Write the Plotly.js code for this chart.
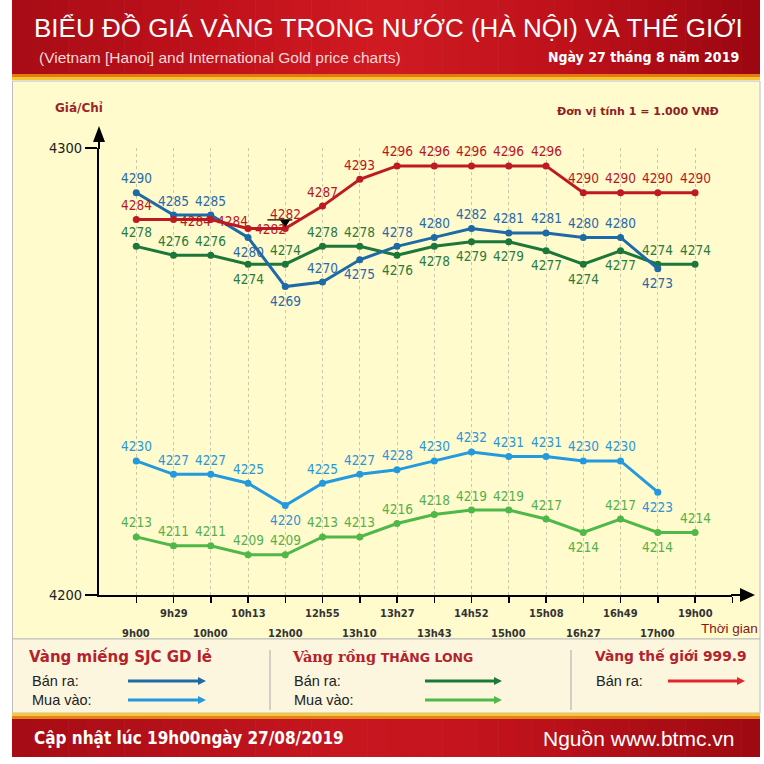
<!DOCTYPE html>
<html><head><meta charset="utf-8">
<script src="https://cdn.plot.ly/plotly-3.0.1.min.js"></script>
<style>html,body{margin:0;padding:0;background:#fff}#chart{width:764px;height:764px}</style>
</head><body><div id="chart"></div>
<script>
// ---- data ----
const times = ['9h00','9h29','10h00','10h13','12h00','12h55','13h10','13h27','13h43','14h52','15h00','15h08','16h27','16h49','17h00','19h00'];
const sjcSell = [4290,4285,4285,4280,4269,4270,4275,4278,4280,4282,4281,4281,4280,4280,4273,null];
const sjcBuy  = [4230,4227,4227,4225,4220,4225,4227,4228,4230,4232,4231,4231,4230,4230,4223,null];
const tlSell  = [4278,4276,4276,4274,4274,4278,4278,4276,4278,4279,4279,4277,4274,4277,4274,4274];
const tlBuy   = [4213,4211,4211,4209,4209,4213,4213,4216,4218,4219,4219,4217,4214,4217,4214,4214];
const world   = [4284,4284,4284,4282,4282,4287,4293,4296,4296,4296,4296,4296,4290,4290,4290,4290];
const yTicks = [4200, 4300];

// ---- label placement (style) ----
const placeSjcSell = ['a','a','a','b','b','a','b','a','a','a','a','a','a','a','b',''];
const placeSjcBuy  = ['a','a','a','a','b','a','a','a','a','a','a','a','a','a','b',''];
const placeTlSell  = ['a','a','a','b','a','a','a','b','b','b','b','b','b','b','a','a'];
const placeTlBuy   = ['a','a','a','a','a','a','a','a','a','a','a','a','b','a','b','a'];
const placeWorld   = ['a','r','r','r','a','a','a','a','a','a','a','a','a','a','a','a'];

const C = {
  sjcSell:'#1d6aa6', sjcBuy:'#2399de', tlSell:'#1c7838', tlBuy:'#4fb848', world:'#bf1a24'
};

const W=764,H=764;
const px = x => x/W, py = y => 1 - y/H;
const shapes=[];
function rect(x0,y0,x1,y1,fill,lineColor,lw){
  shapes.push({type:'rect',xref:'paper',yref:'paper',x0:px(x0),x1:px(x1),y0:py(y1),y1:py(y0),
    fillcolor:fill,line:{color:lineColor||fill,width:lw||0},layer:'below'});
}
function pline(x0,y0,x1,y1,color,w,layer){
  shapes.push({type:'line',xref:'paper',yref:'paper',x0:px(x0),x1:px(x1),y0:py(y0),y1:py(y1),
    line:{color:color,width:w},layer:layer||'above'});
}
function tri(pts,color){
  let d = pts.map((p,i)=>(i?'L':'M')+px(p[0])+','+py(p[1])).join(' ')+' Z';
  shapes.push({type:'path',xref:'paper',yref:'paper',path:d,fillcolor:color,line:{color:color,width:0},layer:'above'});
}
function hex2rgb(h){return [1,3,5].map(i=>parseInt(h.substr(i,2),16));}
function interp(stops,t){
  for(let i=0;i<stops.length-1;i++){
    if(t<=stops[i+1][0]){
      const a=hex2rgb(stops[i][1]), b=hex2rgb(stops[i+1][1]);
      const f=(t-stops[i][0])/(stops[i+1][0]-stops[i][0]);
      return 'rgb('+a.map((v,k)=>Math.round(v+(b[k]-v)*f)).join(',')+')';
    }
  }
  return stops[stops.length-1][1];
}
function grad(y0,y1,stops,n){
  const xl=12, xr=760;
  for(let i=0;i<n;i++){
    const xa=xl+(xr-xl)*i/n, xb=xl+(xr-xl)*(i+1)/n+0.6;
    rect(xa,y0,Math.min(xb,xr),y1,interp(stops,(i+0.5)/n));
  }
}
// header
grad(0,74,[[0,'#a80c16'],[0.3,'#c3121c'],[0.5,'#d01a22'],[0.75,'#bd101a'],[1,'#9a0710']],40);
rect(12,74,760,77,'#e27c12');
rect(12,77,760,80,'#f6c332');
// chart area
rect(12.5,81,760,639,'#fffbcd','#bdbdbd',1);
// legend area
rect(12.5,639,760,713,'#fdf6df','#bdbdbd',1);
// footer
rect(12,713,760,716,'#f6c63c');
rect(12,716,760,719,'#e3821a');
grad(719,757,[[0,'#a50c15'],[0.45,'#c8161f'],[0.6,'#c5141d'],[1,'#9e0a12']],40);
// separators
pline(270,650,270,710,'#b5b5b5',1.2);
pline(571,650,571,710,'#b5b5b5',1.2);
// axis arrows
pline(99,149,99,139,'#000',2);
tri([[93,142],[105,142],[99,126]],'#000');
pline(731,595,742,595,'#000',2);
tri([[740,588],[740,602],[755,595]],'#000');
// legend arrows
function legArrow(x0,x1,y,color){
  pline(x0,y,x1-6,y,color,3);
  tri([[x1-8,y-4],[x1-8,y+4],[x1,y]],color);
}
legArrow(128,206,681,C.sjcSell);
legArrow(128,206,700,C.sjcBuy);
legArrow(425,502,681,C.tlSell);
legArrow(425,502,700,C.tlBuy);
legArrow(668,745,681,'#e3262e');
// small black marker near world 12h00
shapes.push({type:'line',xref:'x',yref:'y',x0:3.52,x1:4.19,y0:4283.9,y1:4283.9,line:{color:'#000',width:1.2},layer:'above'});
shapes.push({type:'path',xref:'x',yref:'y',path:'M 3.86,4283.9 L 4.13,4283.9 L 3.995,4282.2 Z',fillcolor:'#000',line:{color:'#000',width:0},layer:'above'});

// ---- annotations ----
const ann=[];
function txt(x,y,text,size,color,family,xanchor,extra){
  ann.push(Object.assign({xref:'paper',yref:'paper',x:px(x),y:py(y),text:text,showarrow:false,
    xanchor:xanchor||'center',yanchor:'middle',font:{size:size,color:color,family:family}},extra||{}));
}
const SANS='Liberation Sans, Arial, sans-serif';
const DJ='DejaVu Sans, Verdana, sans-serif';
const DJC='DejaVu Sans Condensed, DejaVu Sans, sans-serif';
txt(388,28,'BIỂU ĐỒ GIÁ VÀNG TRONG NƯỚC (HÀ NỘI) VÀ THẾ GIỚI',26,'#ffffff',SANS);
txt(37,57,'(Vietnam [Hanoi] and International Gold price charts)',15.5,'#f4d8d8',SANS,'left');
txt(741,57,'<b>Ngày 27 tháng 8 năm 2019</b>',14,'#ffffff',DJC,'right');
txt(79,108,'<b>Giá/Chỉ</b>',12,'#9a2626',DJ);
txt(721,111,'<b>Đơn vị tính 1 = 1.000 VNĐ</b>',11,'#8e2020',DJ,'right');
txt(760,628,'Thời gian',13.5,'#8b1414',SANS,'right');
// x tick labels (two rows)
times.forEach((t,i)=>{
  ann.push({xref:'x',yref:'paper',x:i,y:py(i%2?613:633),text:'<b>'+t+'</b>',showarrow:false,
    xanchor:'center',yanchor:'middle',font:{size:11,color:'#333',family:DJC}});
});
// legend text
txt(27,656,'<b>Vàng miếng SJC GD lẻ</b>',15,'#b3232b',DJ,'left');
txt(290,656,'<b>Vàng rồng</b> <b><span style="font-size:12.5px;font-family:DejaVu Sans">THĂNG LONG</span></b>',14.5,'#b3232b','DejaVu Serif, serif','left');
txt(593,656,'<b>Vàng thế giới 999.9</b>',13.8,'#b3232b',DJ,'left');
txt(30,681,'Bán ra:',14.5,'#222',SANS,'left');
txt(30,700,'Mua vào:',14.5,'#222',SANS,'left');
txt(292,681,'Bán ra:',14.5,'#222',SANS,'left');
txt(292,700,'Mua vào:',14.5,'#222',SANS,'left');
txt(594,681,'Bán ra:',14.5,'#222',SANS,'left');
// footer
txt(32,738,'<b>Cập nhật lúc 19h00ngày 27/08/2019</b>',17,'#ffffff',DJC,'left');
txt(736,738,'Nguồn www.btmc.vn',21,'#ffffff',SANS,'right');

// data labels
function labels(vals,place,color){
  vals.forEach((v,i)=>{
    if(v===null) return;
    const p=place[i];
    let xs=0, ys=14.5;
    if(p==='b') ys=-14.5;
    if(p==='r'){ xs=22; ys=-1; }
    ann.push({xref:'x',yref:'y',x:i,y:v,text:String(v),showarrow:false,xanchor:'center',yanchor:'middle',
      xshift:xs,yshift:ys,font:{size:13.5,color:color,family:DJC}});
  });
}
labels(tlBuy,placeTlBuy,'#55b04a');
labels(sjcBuy,placeSjcBuy,'#2b95d8');
labels(tlSell,placeTlSell,'#2a7a3c');
labels(sjcSell,placeSjcSell,'#2a68a8');
labels(world,placeWorld,'#b8161f');

// ---- traces ----
const xs = times.map((_,i)=>i);
function tr(y,color){
  return {x:xs,y:y,type:'scatter',mode:'lines+markers',line:{color:color,width:3},
    marker:{color:color,size:7},hoverinfo:'skip',connectgaps:false,cliponaxis:false};
}
const data=[tr(tlBuy,C.tlBuy),tr(sjcBuy,C.sjcBuy),tr(tlSell,C.tlSell),tr(sjcSell,C.sjcSell),tr(world,C.world)];

const tickIdx=[]; for(let i=0;i<=times.length;i++) tickIdx.push(i);
const layout={
  width:W,height:H,margin:{l:0,r:0,t:0,b:0},paper_bgcolor:'#ffffff',plot_bgcolor:'rgba(0,0,0,0)',
  showlegend:false,
  xaxis:{domain:[px(99),px(732.3)],range:[-1,16],tickmode:'array',tickvals:tickIdx,showticklabels:false,
    ticks:'outside',ticklen:6,tickwidth:1.5,tickcolor:'#000',showline:true,linecolor:'#000',linewidth:2,
    showgrid:true,gridcolor:'#cbc7a8',griddash:'dot',gridwidth:1,zeroline:false,fixedrange:true},
  yaxis:{domain:[py(595),py(148)],range:[4200,4300],tickmode:'array',tickvals:yTicks,ticktext:yTicks.map(String),
    ticks:'outside',ticklen:12,tickwidth:1.5,tickcolor:'#000',showline:true,linecolor:'#000',linewidth:2,
    showgrid:true,gridcolor:'#cbc7a8',griddash:'dot',gridwidth:1,zeroline:false,fixedrange:true,
    tickfont:{family:DJC,size:14.5,color:'#222'}},
  shapes:shapes,annotations:ann
};
Plotly.newPlot('chart',data,layout,{displayModeBar:false,staticPlot:true});
</script></body></html>
